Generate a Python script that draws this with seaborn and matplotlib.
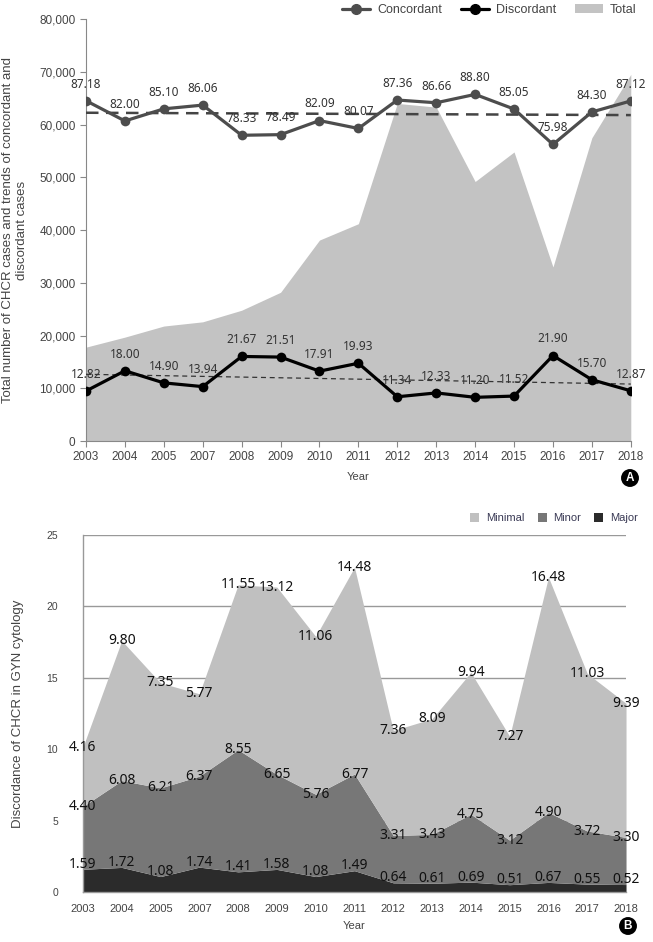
import numpy as np
import matplotlib
matplotlib.use("Agg")
import matplotlib.pyplot as plt
import seaborn as sns
from matplotlib.lines import Line2D
from matplotlib.patches import Patch

anos = ["2003", "2004", "2005", "2007", "2008", "2009", "2010", "2011",
        "2012", "2013", "2014", "2015", "2016", "2017", "2018"]

# painel A
total = [17800, 19700, 21800, 22600, 24800, 28200, 38100, 41200,
         64000, 63300, 49200, 54800, 33000, 57500, 69500]
concordante = [87.18, 82.00, 85.10, 86.06, 78.33, 78.49, 82.09, 80.07,
               87.36, 86.66, 88.80, 85.05, 75.98, 84.30, 87.12]
discordante = [12.82, 18.00, 14.90, 13.94, 21.67, 21.51, 17.91, 19.93,
               11.34, 12.33, 11.20, 11.52, 21.90, 15.70, 12.87]
# linhas de tendencia (inicio, fim)
tendencia_conc = [84.1, 83.5]
tendencia_disc = [17.1, 14.6]

# painel B
minimal = [4.16, 9.80, 7.35, 5.77, 11.55, 13.12, 11.06, 14.48,
           7.36, 8.09, 9.94, 7.27, 16.48, 11.03, 9.39]
minor = [4.40, 6.08, 6.21, 6.37, 8.55, 6.65, 5.76, 6.77,
         3.31, 3.43, 4.75, 3.12, 4.90, 3.72, 3.30]
major = [1.59, 1.72, 1.08, 1.74, 1.41, 1.58, 1.08, 1.49,
         0.64, 0.61, 0.69, 0.51, 0.67, 0.55, 0.52]

sns.set_style("white")
plt.rcParams["font.family"] = ["Liberation Sans", "DejaVu Sans"]
fonte_rotulo = "Noto Sans"
cinza_txt = "#444444"

fig = plt.figure(figsize=(6.53, 9.42), dpi=100)
x = np.arange(len(anos))

# ---------------- painel A ----------------
ax = fig.add_axes([0.1317, 0.5318, 0.8343, 0.448])
ax.fill_between(x, total, color="#c3c3c3", lw=0)
ax.set_xlim(0, len(anos) - 1)
ax.set_ylim(0, 80000)
ax.set_yticks(np.arange(0, 80001, 10000))
ax.set_yticklabels([f"{v:,}" for v in range(0, 80001, 10000)])
ax.set_xticks(x)
ax.set_xticklabels(anos)
ax.tick_params(axis="both", labelsize=8.5, colors="#888888", labelcolor=cinza_txt,
               length=4, width=0.8, direction="out", left=True, bottom=True)
for lado in ["top", "right"]:
    ax.spines[lado].set_visible(False)
for lado in ["left", "bottom"]:
    ax.spines[lado].set_color("#888888")
    ax.spines[lado].set_linewidth(0.8)
ax.set_ylabel("Total number of CHCR cases and trends of concordant and\ndiscordant cases",
              fontsize=9.5, color=cinza_txt, labelpad=8, multialignment="center")
ax.set_xlabel("Year", fontsize=8, color=cinza_txt, labelpad=6)

ax2 = ax.twinx()
ax2.set_ylim(0, 80000 / 740)
ax2.set_yticks([])
for lado in ["top", "right", "left", "bottom"]:
    ax2.spines[lado].set_visible(False)

sns.lineplot(x=x, y=concordante, ax=ax2, color="#4d4d4d", lw=2.3, marker="o",
             markersize=7, markeredgewidth=0, zorder=4)
sns.lineplot(x=x, y=discordante, ax=ax2, color="black", lw=2.3, marker="o",
             markersize=7, markeredgewidth=0, zorder=4)

extremos = [x[0], x[-1]]
ax2.plot(extremos, tendencia_conc, color="#444444", lw=1.8, ls=(0, (5, 3)), zorder=3)
ax2.plot(extremos, tendencia_disc, color="#333333", lw=0.9, ls=(0, (4, 3)), zorder=3)

for serie in [concordante, discordante]:
    for xi, v in zip(x, serie):
        ax2.annotate(f"{v:.2f}", (xi, v), xytext=(0, 12), textcoords="offset points",
                     ha="center", va="center", fontsize=8.5, color="#333333",
                     family=fonte_rotulo)

ax2.set_xlim(0, len(anos) - 1)

leg_a = [Line2D([0], [0], color="#4d4d4d", lw=2.3, marker="o", markersize=7),
         Line2D([0], [0], color="black", lw=2.3, marker="o", markersize=7),
         Patch(facecolor="#c3c3c3", edgecolor="none")]
ax2.legend(leg_a, ["Concordant", "Discordant", "Total"], ncol=3, frameon=False,
           loc="lower right", bbox_to_anchor=(1.02, 0.995), fontsize=9,
           labelcolor=cinza_txt, handlelength=2.2, columnspacing=1.5,
           handletextpad=0.6, borderaxespad=0)

# ---------------- painel B ----------------
bx = fig.add_axes([0.127, 0.0531, 0.8317, 0.379])
for nivel in [5, 10, 15, 20, 25]:
    bx.axhline(nivel, color="#999999", lw=1.0, zorder=0)
bx.stackplot(x, major, minor, minimal,
             colors=["#2b2b2b", "#777777", "#c0c0c0"], lw=0, zorder=2)
bx.set_xlim(0, len(anos) - 1)
bx.set_ylim(0, 25)
bx.set_yticks([0, 5, 10, 15, 20, 25])
bx.set_xticks(x)
bx.set_xticklabels(anos)
bx.tick_params(axis="both", length=0, labelsize=8, labelcolor=cinza_txt, pad=9)
bx.tick_params(axis="y", labelsize=7.5, pad=18)
for lado in ["top", "right"]:
    bx.spines[lado].set_visible(False)
for lado in ["left", "bottom"]:
    bx.spines[lado].set_color("#999999")
    bx.spines[lado].set_linewidth(1.0)
bx.set_ylabel("Discordance of CHCR in GYN cytology", fontsize=9.5, color=cinza_txt,
              labelpad=16)
bx.set_xlabel("Year", fontsize=8, color=cinza_txt, labelpad=5)

topo_major = np.array(major)
topo_minor = topo_major + np.array(minor)
topo_minimal = topo_minor + np.array(minimal)
for xi in x:
    bx.text(xi, topo_minimal[xi], f"{minimal[xi]:.2f}", ha="center", va="center",
            fontsize=10, color="#111111", family=fonte_rotulo, zorder=5)
    bx.text(xi, topo_minor[xi], f"{minor[xi]:.2f}", ha="center", va="center",
            fontsize=10, color="#111111", family=fonte_rotulo, zorder=5)
    bx.text(xi, topo_major[xi] + 0.35, f"{major[xi]:.2f}", ha="center", va="center",
            fontsize=10, color="#111111", family=fonte_rotulo, zorder=5)

leg_b = [Patch(facecolor="#c0c0c0", edgecolor="none"),
         Patch(facecolor="#777777", edgecolor="none"),
         Patch(facecolor="#2b2b2b", edgecolor="none")]
bx.legend(leg_b, ["Minimal", "Minor", "Major"], ncol=3, frameon=False,
          loc="lower right", bbox_to_anchor=(1.03, 1.02), fontsize=8,
          labelcolor="#3a3a55", handlelength=0.8, handleheight=0.8,
          columnspacing=1.2, handletextpad=0.6, borderaxespad=0)

# marcadores dos paineis
for letra, (px, py) in zip(["A", "B"], [(630, 478), (628, 926)]):
    fig.text(px / 653, 1 - py / 942, letra, ha="center", va="center",
             fontsize=8.5, fontweight="bold", color="white",
             bbox=dict(boxstyle="circle,pad=0.25", facecolor="black", edgecolor="none"))

fig.savefig("out.png", dpi=100)
